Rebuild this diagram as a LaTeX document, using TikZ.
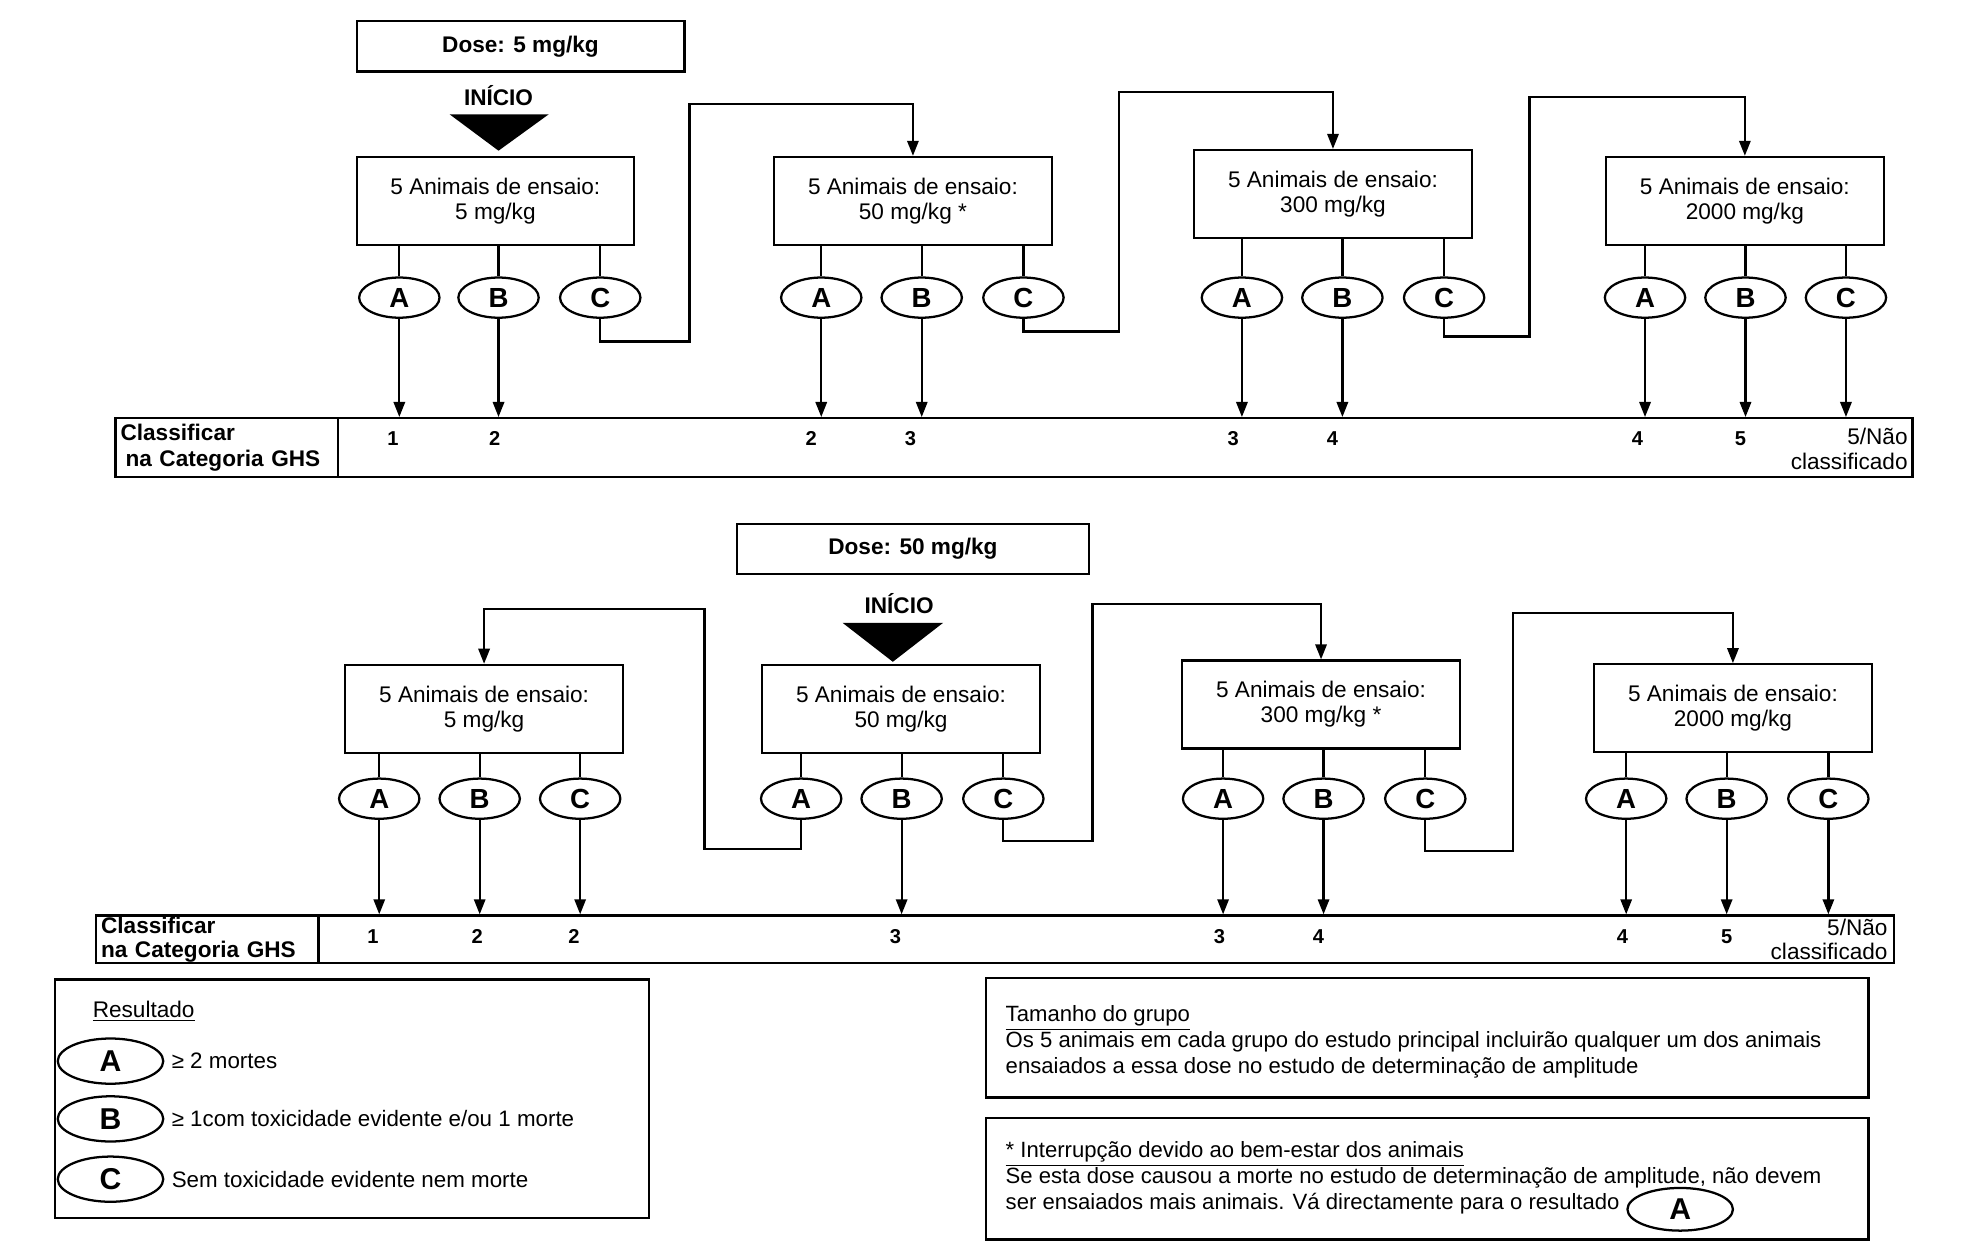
\documentclass[tikz,border=0pt]{standalone}
\usepackage{fontspec}
\setmainfont{Liberation Sans}
\usetikzlibrary{arrows.meta,shapes.geometric,positioning}

\begin{document}
\begin{tikzpicture}[x=0.5pt, y=-0.5pt, line width=0.9pt,
    font=\fontsize{9}{10}\selectfont,
    bold/.style={font=\fontsize{9}{10}\selectfont\bfseries},
    dose/.style={draw, minimum height=20pt, bold},
    box/.style={draw, minimum width=110.5pt, minimum height=35pt, align=center},
    res/.style={draw, ellipse, minimum width=32pt, minimum height=16pt, inner sep=0pt, font=\fontsize{11}{11}\selectfont\bfseries},
    cell/.style={draw, align=left, text width=84.5pt, inner xsep=2pt, inner ysep=0pt, bold},
    num/.style={font=\fontsize{8}{8}\selectfont\bfseries},
    note/.style={anchor=north west, align=left, inner sep=0pt, font=\fontsize{8.8}{10.4}\selectfont},
    arr/.style={-{Triangle[length=6pt, width=4.5pt]}}]
    \useasboundingbox (0,0) rectangle (1568,1003);

    \node[dose, minimum width=130.5pt] (tdose) at (414.5,37) {Dose: 5 mg/kg};
    \node[bold] (tstart) at (397,76) {INÍCIO};
    \fill (358,91) -- (437,91) -- (397,120) -- cycle;

    \foreach \n/\x/\y/\d/\xa/\xb/\xc in {1/394.5/160/{5 mg/kg}/318/397/478, 2/727/160/{50 mg/kg *}/654/734/815,
        3/1061.5/154.5/{300 mg/kg}/989/1069/1150, 4/1389.5/160/{2000 mg/kg}/1310/1390/1470} {
      \node[box] (t\n) at (\x,\y) {5 Animais de ensaio:\\\d};
      \foreach \r/\R/\rx in {a/A/\xa, b/B/\xb, c/C/\xc} {
        \node[res] (t\n-\r) at (\rx,237) {\R};
        \draw (t\n.south -| t\n-\r.north) -- (t\n-\r.north);
      }
    }

    \node[cell, minimum height=23.5pt] (tlab) at (180.5,356.5) {Classificar\\\hspace*{2pt}na Categoria GHS};
    \node[draw, minimum width=627pt, minimum height=23.5pt] (tbar) at (896,356.5) {};
    \foreach \e in {t1-a, t1-b, t2-a, t2-b, t3-a, t3-b, t4-a, t4-b, t4-c}
      \draw[arr] (\e.south) -- (\e.south |- tbar.north);
    \draw[arr] (t1-c.south) -- ++(0,18) -| (549,83) -| (t2.north);
    \draw[arr] (t2-c.south) -- ++(0,10) -| (891,73) -| (t3.north);
    \draw[arr] (t3-c.south) -- ++(0,14) -| (1218,77) -| (t4.north);

    \foreach \x/\c [count=\i] in {313/1, 394/2, 646/2, 725/3, 982/3, 1061/4, 1304/4, 1386/5}
      \node[num] (tn\i) at (\x,349) {\c};
    \node[align=right, anchor=east, inner sep=1pt] (tnc) at (1522,357.5) {5/Não\\classificado};

    \node[dose, minimum width=140pt] (bdose) at (727,437) {Dose: 50 mg/kg};
    \node[bold] (bstart) at (716,481) {INÍCIO};
    \fill (671,496) -- (751,496) -- (711,527) -- cycle;

    \foreach \n/\x/\y/\d/\xa/\xb/\xc in {1/385.5/564.5/{5 mg/kg}/302/382/462, 2/717.5/564.5/{50 mg/kg}/638/718/799,
        3/1052/561/{300 mg/kg *}/974/1054/1135, 4/1380/564/{2000 mg/kg}/1295/1375/1456} {
      \node[box] (b\n) at (\x,\y) {5 Animais de ensaio:\\\d};
      \foreach \r/\R/\rx in {a/A/\xa, b/B/\xb, c/C/\xc} {
        \node[res] (b\n-\r) at (\rx,636) {\R};
        \draw (b\n.south -| b\n-\r.north) -- (b\n-\r.north);
      }
    }

    \node[cell, minimum height=19pt, font=\fontsize{9}{9.5}\selectfont\bfseries] (blab) at (165,748) {Classificar\\na Categoria GHS};
    \node[draw, minimum width=627pt, minimum height=19pt] (bbar) at (881,748) {};
    \foreach \e in {b1-a, b1-b, b1-c, b2-b, b3-a, b3-b, b4-a, b4-b, b4-c}
      \draw[arr] (\e.south) -- (\e.south |- bbar.north);
    \draw[arr] (b2-a.south) -- ++(0,23) -| (561,485) -| (b1.north);
    \draw[arr] (b2-c.south) -- ++(0,17) -| (870,481) -| (b3.north);
    \draw[arr] (b3-c.south) -- ++(0,25) -| (1205,488) -| (b4.north);

    \foreach \x/\c [count=\i] in {297/1, 380/2, 457/2, 713/3, 971/3, 1050/4, 1292/4, 1375/5}
      \node[num] (bn\i) at (\x,746) {\c};
    \node[align=right, anchor=east, inner sep=1pt, font=\fontsize{9}{9.5}\selectfont] (bnc) at (1506,748) {5/Não\\classificado};

    \node[draw, minimum width=236.5pt, minimum height=95pt] (legend) at (280.5,875) {};
    \node[anchor=base west, inner sep=0pt] (lhead) at (73,810) {\underline{Resultado}};
    \foreach \r/\y/\t in {A/845/{≥ 2 mortes}, B/891/{≥ 1com toxicidade evidente e/ou 1 morte},
        C/939/{Sem toxicidade evidente nem morte}} {
      \node[res, minimum width=42pt, minimum height=18pt, font=\fontsize{12}{12}\selectfont\bfseries] (l\r) at (88,\y) {\r};
      \node[right=2.5pt of l\r, inner sep=0pt, font=\fontsize{8.9}{11}\selectfont] (lt\r) {\t};
    }

    \node[draw, minimum width=351.5pt, minimum height=47.5pt] (group) at (1136.5,826.5) {};
    \node[note] (grouptext) at (800,800) {\underline{Tamanho do grupo}\\
      Os 5 animais em cada grupo do estudo principal incluirão qualquer um dos animais\\
      ensaiados a essa dose no estudo de determinação de amplitude};

    \node[draw, minimum width=351.5pt, minimum height=48.5pt] (stop) at (1136.5,938.5) {};
    \node[note] (stoptext) at (800,908) {\underline{* Interrupção devido ao bem-estar dos animais}\\
      Se esta dose causou a morte no estudo de determinação de amplitude, não devem\\
      ser ensaiados mais animais. Vá directamente para o resultado};
    \node[res, minimum width=42pt, minimum height=17pt, font=\fontsize{12}{12}\selectfont\bfseries] (stopa) at (1338,963) {A};
  \end{tikzpicture}
\end{document}
